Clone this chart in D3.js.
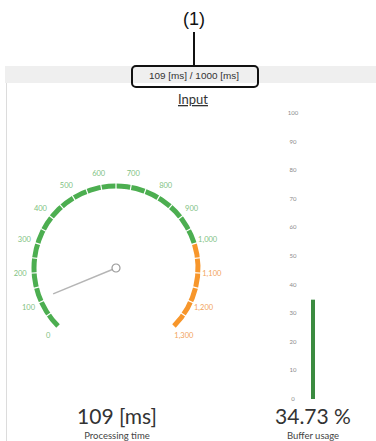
<!DOCTYPE html>
<html><head><meta charset="utf-8">
<script src="https://cdn.jsdelivr.net/npm/d3@7"></script>
<style>
html,body{margin:0;padding:0;background:#fff;}
svg{display:block;font-family:Lato,"Segoe UI",sans-serif;}
</style></head>
<body>
<svg id="c" width="376" height="441"></svg>
<script>
// ---- data ----
const gaugeTicks = [0,100,200,300,400,500,600,700,800,900,1000,1100,1200,1300];
const gaugeTickLabels = ["0","100","200","300","400","500","600","700","800","900","1,000","1,100","1,200","1,300"];
const gaugeBands = [{from:0,to:1000,zone:"normal"},{from:1000,to:1300,zone:"over"}];
const processingTime = 109;
const cycleLimit = 1000;
const barTicks = [0,10,20,30,40,50,60,70,80,90,100];
const bufferUsage = [34.73];
const headerText = "109 [ms] / 1000 [ms]";
const title = "Input";
const gaugeLabel = "Processing time";
const barLabel = "Buffer usage";

const svg = d3.select("#c");
const green = "#4cae50", orange = "#f7962b";
const greenLbl = "#7fbf82", orangeLbl = "#f2a35a";

// header band
svg.append("rect").attr("x",5).attr("y",66).attr("width",371).attr("height",17).attr("fill","#efefef");
// panel left border
svg.append("line").attr("x1",6.5).attr("x2",6.5).attr("y1",83).attr("y2",441).attr("stroke","#dcdcdc").attr("stroke-width",1);

// callout
svg.append("text").attr("x",194).attr("y",25).attr("text-anchor","middle").attr("font-size",18).attr("fill","#111")
  .style("font-family","Liberation Sans, Arial, sans-serif").text("(1)");
svg.append("line").attr("x1",194).attr("x2",194).attr("y1",32).attr("y2",66).attr("stroke","#111").attr("stroke-width",2);
svg.append("rect").attr("x",132).attr("y",66).attr("width",126).attr("height",21).attr("rx",4)
  .attr("fill","none").attr("stroke","#111").attr("stroke-width",2);
svg.append("text").attr("x",194).attr("y",79).attr("text-anchor","middle").attr("font-size",9).attr("fill","#333")
  .style("font-family","Liberation Sans Narrow, Liberation Sans, Arial, sans-serif").attr("textLength",90).attr("lengthAdjust","spacingAndGlyphs").text(headerText);

// title
svg.append("text").attr("x",193).attr("y",104).attr("text-anchor","middle").attr("font-size",13).attr("fill","#333")
  .attr("text-decoration","underline").text(title);

// ---- gauge ----
const cx = 116, cy = 268, R = 82, W = 5;
const ang = d3.scaleLinear().domain([0,1300]).range([-135*Math.PI/180, 135*Math.PI/180]);
const g = svg.append("g").attr("transform",`translate(${cx},${cy})`);
const arc = d3.arc().innerRadius(R-W/2).outerRadius(R+W/2);
g.selectAll("path.band").data(gaugeBands).join("path").attr("class","band")
  .attr("d",d=>arc({startAngle:ang(d.from),endAngle:ang(d.to)}))
  .attr("fill",d=>d.zone==="normal"?green:orange);
// minor separators every 50
const seps = d3.range(50,1300,50);
g.selectAll("line.sep").data(seps).join("line").attr("class","sep")
  .attr("x1",d=>Math.sin(ang(d))*(R-W))
  .attr("y1",d=>-Math.cos(ang(d))*(R-W))
  .attr("x2",d=>Math.sin(ang(d))*(R+W))
  .attr("y2",d=>-Math.cos(ang(d))*(R+W))
  .attr("stroke","#fff").attr("stroke-width",1.2);
// labels
const LR = 96;
g.selectAll("text.tl").data(gaugeTicks).join("text").attr("class","tl")
  .attr("x",d=>Math.sin(ang(d))*LR)
  .attr("y",d=>-Math.cos(ang(d))*LR+2.5)
  .attr("text-anchor","middle").attr("font-size",7.5)
  .attr("fill",d=>d<=cycleLimit?greenLbl:orangeLbl)
  .text((d,i)=>gaugeTickLabels[i]);
// needle
const NL = 68;
g.append("line").attr("x1",0).attr("y1",0)
  .attr("x2",Math.sin(ang(processingTime))*NL).attr("y2",-Math.cos(ang(processingTime))*NL)
  .attr("stroke","#b5b5b5").attr("stroke-width",1.5);
g.append("circle").attr("r",4).attr("fill","#fff").attr("stroke","#9a9a9a").attr("stroke-width",1.2);

// ---- bar ----
const y = d3.scaleLinear().domain([0,100]).range([399,113]);
svg.selectAll("text.bt").data(barTicks).join("text").attr("class","bt")
  .attr("x",293).attr("y",d=>y(d)+2).attr("text-anchor","middle").attr("font-size",6).attr("fill","#8a8a8a").text(d=>d);
svg.selectAll("rect.bar").data(bufferUsage).join("rect").attr("class","bar")
  .attr("x",311).attr("width",4)
  .attr("y",d=>y(d)).attr("height",d=>y(0)-y(d)).attr("fill","#3b8b40");

// values
svg.append("text").attr("x",117).attr("y",424).attr("text-anchor","middle").attr("font-size",21).attr("fill","#333")
  .text(processingTime+" [ms]");
svg.append("text").attr("x",117).attr("y",438.5).attr("text-anchor","middle").attr("font-size",9.5).attr("fill","#444").text(gaugeLabel);
svg.append("text").attr("x",313).attr("y",424).attr("text-anchor","middle").attr("font-size",21).attr("fill","#333")
  .text(bufferUsage[0].toFixed(2)+" %");
svg.append("text").attr("x",313).attr("y",438.5).attr("text-anchor","middle").attr("font-size",9.5).attr("fill","#444").text(barLabel);
</script>
</body></html>
